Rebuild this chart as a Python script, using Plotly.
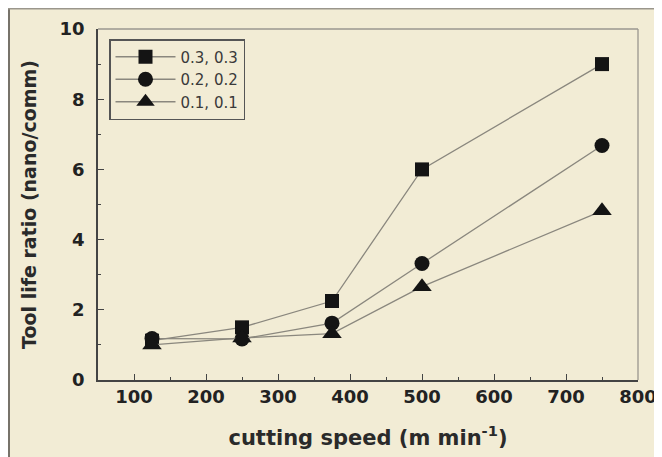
import plotly.graph_objects as go

speed = [125, 250, 375, 500, 750]
series_names = ["0.3, 0.3", "0.2, 0.2", "0.1, 0.1"]
ratio_03 = [1.12, 1.5, 2.25, 6.0, 9.0]
ratio_02 = [1.18, 1.17, 1.62, 3.32, 6.68]
ratio_01 = [1.0, 1.2, 1.32, 2.66, 4.82]
x_ticks = [100, 200, 300, 400, 500, 600, 700, 800]
y_ticks = [0, 2, 4, 6, 8, 10]

BG = "#f2ecd5"
OFF = 8                      # page body margin of the html page
W, H = 662 - OFF, 457 - OFF  # figure size so the page fits the window
# plot area in page pixels: x 98..638, y 29..380
L, T = 98 - OFF, 29 - OFF
R, B = W - (638 - OFF), H - (380 - OFF)
pw, ph = W - L - R, H - T - B

def px_x(p):  # page pixel -> paper x
    return (p - OFF - L) / pw

def px_y(p):  # page pixel -> paper y
    return (H - B - (p - OFF)) / ph

fig = go.Figure()
symbols = ["square", "circle", "triangle-up"]
sizes = [14, 15, 17]
for name, vals, sym, sz in zip(series_names, [ratio_03, ratio_02, ratio_01], symbols, sizes):
    fig.add_trace(go.Scatter(
        x=speed, y=vals, name=name, mode="lines+markers",
        line=dict(color="#8a877e", width=1.3),
        marker=dict(symbol=sym, size=sz, color="#141414", line=dict(width=0)),
    ))

axis_font = dict(family="DejaVu Sans", size=18, color="#222222")

fig.update_xaxes(
    range=[50, 800], tickvals=x_ticks, ticktext=[f"<b>{v}</b>" for v in x_ticks],
    ticks="inside", ticklen=6, tickwidth=1.3, tickcolor="#444",
    minor=dict(dtick=50, tick0=0, ticks="inside", ticklen=3, tickcolor="#444", tickwidth=1.2),
    showline=True, linecolor="#444", linewidth=1.5,
    showgrid=False, zeroline=False, tickfont=axis_font, ticklabelstandoff=0,
    title=dict(text="<b>cutting speed (m min<sup>-1</sup>)</b>",
               font=dict(family="DejaVu Sans", size=21, color="#2a2a2a"), standoff=24),
)
fig.update_yaxes(
    range=[0, 10], tickvals=y_ticks, ticktext=[f"<b>{v}</b>" for v in y_ticks],
    ticks="inside", ticklen=6, tickwidth=1.3, tickcolor="#444",
    minor=dict(dtick=1, tick0=0, ticks="inside", ticklen=3, tickcolor="#444", tickwidth=1.2),
    showline=True, linecolor="#444", linewidth=1.5,
    showgrid=False, zeroline=False, tickfont=axis_font, ticklabelstandoff=8,
    title=dict(text="<b>Tool life ratio (nano/comm)</b>",
               font=dict(family="DejaVu Sans", size=19, color="#2a2a2a"), standoff=18),
)

shapes = [
    # outer frame lines (left and top) at the page position 8px
    dict(type="line", xref="paper", yref="paper", x0=px_x(9), x1=px_x(9), y0=px_y(470), y1=px_y(8),
         line=dict(color="#77736a", width=2)),
    dict(type="line", xref="paper", yref="paper", x0=px_x(8), x1=px_x(680), y0=px_y(8.7), y1=px_y(8.7),
         line=dict(color="#9a968c", width=1.5)),
    # top and right borders of the plot
    dict(type="line", xref="paper", yref="paper", x0=0, x1=1, y0=1, y1=1,
         line=dict(color="#9a978f", width=1.3)),
    dict(type="line", xref="paper", yref="paper", x0=1, x1=1, y0=0, y1=1,
         line=dict(color="#9a978f", width=1.3)),
]

fig.update_layout(
    width=W, height=H,
    margin=dict(l=L, r=R, t=T, b=B, autoexpand=False),
    paper_bgcolor=BG, plot_bgcolor=BG,
    shapes=shapes,
    showlegend=True,
    legend=dict(
        x=px_x(109), y=px_y(39), xanchor="left", yanchor="top",
        bgcolor=BG, bordercolor="#555555", borderwidth=1.5,
        font=dict(family="DejaVu Sans", size=15, color="#3a3a3a"),
        itemwidth=60, tracegroupgap=0,
    ),
)

fig.write_html("out.html")
